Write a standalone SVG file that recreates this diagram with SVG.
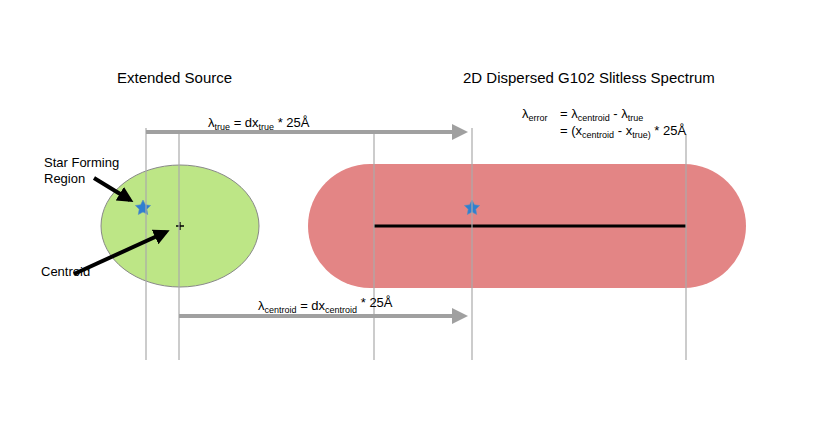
<svg xmlns="http://www.w3.org/2000/svg" width="830" height="423" viewBox="0 0 830 423">
<style>
text{font-family:"Liberation Sans",Arial,sans-serif;fill:#000}
.t{font-size:15px}.s{font-size:13px}.b{font-size:9px}
.v{stroke:#aaa;stroke-width:1.2}
.g{stroke:#a0a0a0;stroke-width:4;fill:none}
.k{stroke:#000;stroke-width:4}
</style>
<defs>
<marker id="ga" markerWidth="4" markerHeight="4" refX="3" refY="2" orient="auto"><path d="M0,0L4,2L0,4Z" fill="#a0a0a0"/></marker>
<marker id="ka" markerWidth="4" markerHeight="4" refX="3" refY="2" orient="auto"><path d="M0,0L4,2L0,4Z" fill="#000"/></marker>
<path id="star" d="M0,-8L2.4,-3.2L7.6,-2.5L3.8,1.2L4.7,6.5L0,4L-4.7,6.5L-3.8,1.2L-7.6,-2.5L-2.4,-3.2Z" fill="#2f7fd0" stroke="#5a8ec0" stroke-width="0.6"/>
</defs>
<g id="source">
<ellipse cx="180" cy="226" rx="79" ry="61" fill="#bde686" stroke="#888" stroke-width="1"/>
<use href="#star" x="143" y="208"/>
<path d="M176,226h8M180,222v8" stroke="#000" stroke-width="1.3"/>
</g>
<g id="spectrum">
<rect x="308" y="164" width="438" height="124" rx="62" fill="#e38585"/>
<line x1="374" y1="226" x2="686" y2="226" stroke="#000" stroke-width="3"/>
<use href="#star" x="472" y="208"/>
</g>
<g id="connectors">
<line class="v" x1="146" y1="128" x2="146" y2="360"/>
<line class="v" x1="179" y1="134" x2="179" y2="360"/>
<line class="v" x1="374" y1="134" x2="374" y2="360"/>
<line class="v" x1="472" y1="128" x2="472" y2="360"/>
<line class="v" x1="686" y1="134" x2="686" y2="360"/>
<line class="g" x1="146" y1="132" x2="464" y2="132" marker-end="url(#ga)"/>
<line class="g" x1="179" y1="316" x2="464" y2="316" marker-end="url(#ga)"/>
<line class="k" x1="94" y1="178" x2="130" y2="200" marker-end="url(#ka)"/>
<line class="k" x1="74" y1="274" x2="166" y2="232" marker-end="url(#ka)"/>
</g>
<g id="labels">
<text class="t" x="117" y="83">Extended Source</text>
<text class="t" x="463" y="83">2D Dispersed G102 Slitless Spectrum</text>
<text class="s" x="44" y="167">Star Forming</text>
<text class="s" x="44" y="183">Region</text>
<text class="s" x="41" y="276">Centroid</text>
<text class="s" x="208" y="127">λ<tspan class="b" dy="3">true</tspan><tspan dy="-3"> = dx</tspan><tspan class="b" dy="3">true</tspan><tspan dy="-3"> * 25Å</tspan></text>
<text class="s" x="258" y="310">λ<tspan class="b" dy="3">centroid</tspan><tspan dy="-3"> = dx</tspan><tspan class="b" dy="3">centroid</tspan><tspan dy="-6"> * 25Å</tspan></text>
<text class="s" x="522" y="118">λ<tspan class="b" dy="3">error</tspan><tspan dy="-3" x="560">= λ</tspan><tspan class="b" dy="3">centroid</tspan><tspan dy="-3"> - λ</tspan><tspan class="b" dy="3">true</tspan></text>
<text class="s" x="560" y="135">= (x<tspan class="b" dy="3">centroid</tspan><tspan dy="-3"> - x</tspan><tspan class="b" dy="3">true)</tspan><tspan dy="-3"> * 25Å</tspan></text>
</g>
</svg>
